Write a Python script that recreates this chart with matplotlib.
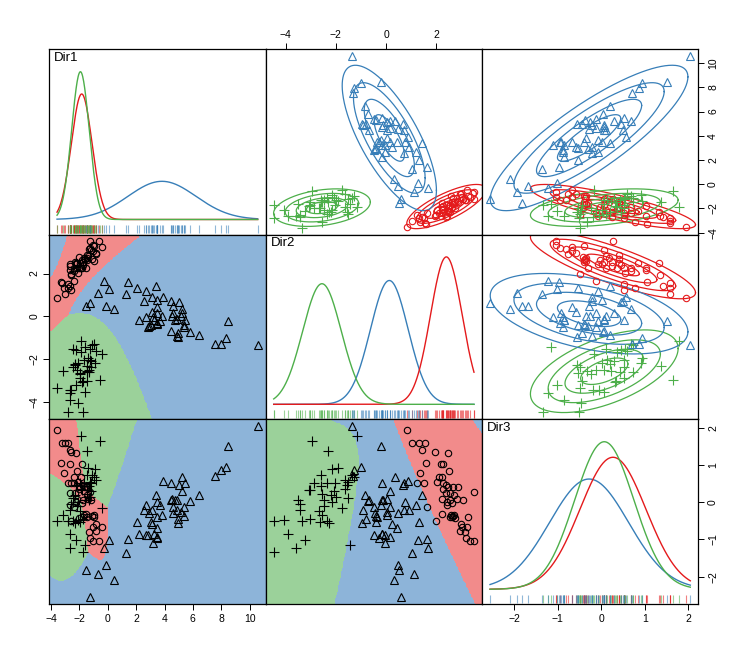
import numpy as np
import matplotlib
matplotlib.use('Agg')
import matplotlib.pyplot as plt
import matplotlib.transforms as mtransforms
from matplotlib.colors import ListedColormap

plt.rcParams['font.family'] = ['Liberation Sans', 'DejaVu Sans']

# ---------------- data ----------------
dim_names = ['Dir1', 'Dir2', 'Dir3']

dir1_red = [-3.55, -3.00, -2.80, -3.20, -2.68, -2.61, -2.26, -3.27, -2.64, -1.79,
            -2.20, -3.11, -2.40, -1.86, -2.80, -2.56, -2.09, -2.35, -1.74, -2.02,
            -1.95, -1.60, -1.50, -1.25, -2.68, -2.33, -1.50, -2.16, -1.74, -1.40,
            -1.20, -2.21, -1.85, -2.64, -2.40, -2.56, -1.55, -0.98, -1.45, -1.10,
            -1.65, -0.95, -0.80, -1.03, -0.44, -0.84, -1.31, -1.27, -1.03, -0.60,
            -1.75, -2.00]
dir2_red = [0.85, 1.04, 1.31, 1.55, 1.44, 1.95, 2.47, 1.60, 2.18, 2.28,
            2.51, 1.34, 2.11, 2.24, 1.51, 1.24, 2.04, 2.28, 2.40, 2.28,
            2.47, 2.67, 2.88, 3.50, 2.37, 2.53, 2.71, 2.24, 2.55, 2.84,
            3.08, 2.44, 2.64, 2.44, 1.64, 1.98, 2.24, 2.57, 2.64, 2.68,
            2.71, 3.26, 2.97, 3.04, 3.24, 2.93, 3.15, 3.20, 3.33, 3.50,
            2.55, 2.75]
dir3_red = [1.95, 1.59, 1.59, 1.59, 1.42, 1.36, 1.32, 1.05, 1.02, 1.03,
            0.85, 0.78, 0.69, 0.69, 0.52, 0.52, 0.55, 0.52, 0.46, 0.37,
            0.40, 0.42, 0.42, 0.28, 0.25, 0.24, 0.19, 0.10, 0.07, 0.10,
            0.055, 0.01, -0.02, -0.08, -0.13, -0.50, -0.31, -0.35, -0.40, -0.38,
            -0.35, -0.40, -0.59, -0.67, -0.67, -0.77, -0.80, -0.95, -1.03, -1.05,
            -0.40, -0.41]

dir1_green = [-1.86, -0.56, -1.50, -0.87, -1.38, -1.46, -1.10, -0.95, -0.80, -1.97,
              -1.15, -1.70, -1.25, -2.26, -1.31, -1.86, -1.50, -1.79, -1.15, -1.46,
              -2.33, -1.27, -2.45, -1.62, -1.31, -2.09, -2.56, -2.16, -0.44, -2.68,
              -1.97, -3.15, -1.74, -2.09, -2.45, -2.80, -3.58, -1.97, -2.30, -2.64,
              -2.21, -1.62, -2.64, -1.74]
dir2_green = [-1.15, -2.95, -2.31, -2.17, -1.92, -2.57, -1.35, -1.28, -1.62, -2.88,
              -2.35, -2.04, -1.52, -1.55, -2.57, -1.64, -3.01, -3.05, -2.08, -2.55,
              -2.21, -2.01, -1.52, -3.50, -2.48, -2.15, -3.44, -2.48, -1.75, -3.44,
              -2.68, -2.55, -3.01, -4.05, -2.35, -4.47, -3.34, -2.61, -2.28, -3.90,
              -3.21, -1.42, -3.58, -4.47]
dir3_green = [1.78, 1.65, 1.38, 0.91, 0.93, 0.73, 0.73, 0.69, 0.60, 0.52,
              0.52, 0.52, 0.55, 0.46, 0.43, 0.37, 0.34, 0.32, 0.30, 0.235,
              0.21, 0.13, 0.11, 0.07, 0.055, 0.02, -0.04, -0.11, -0.16, -0.20,
              -0.24, -0.33, -0.44, -0.47, -0.49, -0.51, -0.50, -0.53, -0.55, -0.85,
              -1.01, -1.16, -1.23, -1.34]

dir1_blue = [10.57, 8.47, 7.53, 7.98, 8.36, 3.92, 4.46, 5.22, 5.45, 5.00,
             6.45, 5.83, 3.40, 3.45, 3.69, 2.67, 3.10, 2.55, 4.44, 4.75,
             4.91, 4.63, 4.87, 5.38, 5.34, 3.80, 4.58, 2.04, 3.03, 3.10,
             3.45, 2.22, 2.67, 2.86, 3.26, 3.50, 1.40, 0.10, 3.21, 1.28,
             -0.28, -0.13, -1.57, -0.68, 0.45, -1.22, 5.15, 3.45, 4.51, 3.50,
             2.93, 4.98, 4.98, 5.22]
dir2_blue = [-1.34, -0.20, -1.30, -1.26, -0.99, 0.89, 0.72, 0.34, -0.17, 0.69,
             -0.85, -0.73, 1.42, 0.76, -0.20, 1.20, 0.92, 0.73, -0.67, -0.17,
             -0.14, 0.14, -0.92, -0.48, -0.40, 0.02, 0.48, 1.31, -0.40, 0.22,
             0.42, -0.17, -0.04, -0.48, -0.17, 0.17, 1.62, 1.26, -0.04, 1.04,
             1.67, 0.48, 0.50, 1.11, 0.33, 0.61, 0.02, -0.29, 0.02, -0.36,
             -0.45, -0.79, -0.95, 0.14]
dir3_blue = [2.05, 1.51, 0.71, 0.88, 0.94, 0.58, 0.51, 0.69, 0.52, 0.46,
             0.21, 0.03, 0.21, 0.01, -0.08, -0.08, -0.22, -0.22, 0.055, 0.055,
             0.055, -0.13, -0.22, -0.13, -0.38, -0.35, -0.29, -0.53, -0.53, -0.58,
             -0.68, -0.86, -0.89, -0.89, -0.86, -0.92, -0.98, -1.01, -1.10, -1.37,
             -1.23, -1.69, -1.82, -1.94, -2.09, -2.56, -0.26, -0.95, 0.10, -0.40,
             -0.30, -0.45, -0.55, 0.30]

# class Gaussian parameters (means, sds, correlations rho12, rho13, rho23)
red_mean = [-1.84, 2.40, 0.27]
red_sd = [0.73, 0.63, 0.76]
red_corr = [0.76, -0.82, -0.82]
green_mean = [-1.93, -2.55, 0.07]
green_sd = [0.62, 0.77, 0.68]
green_corr = [0.30, 0.40, 0.55]
blue_mean = [3.82, 0.13, -0.28]
blue_sd = [2.40, 0.75, 0.91]
blue_corr = [-0.72, 0.84, -0.45]

contour_radii = [0.8, 1.33, 1.9, 2.5]

line_colors = ['#E41A1C', '#4DAF4A', '#377EB8']
region_colors = ['#F28B8B', '#9BD19A', '#8DB4D9']
markers = ['o', '+', '^']
msizes = [4.6, 6.5, 5.2]

# ---------------- assemble ----------------
data = [np.array([dir1_red, dir2_red, dir3_red]).T,
        np.array([dir1_green, dir2_green, dir3_green]).T,
        np.array([dir1_blue, dir2_blue, dir3_blue]).T]
means = [np.array(red_mean), np.array(green_mean), np.array(blue_mean)]
sds = [red_sd, green_sd, blue_sd]
corrs = [red_corr, green_corr, blue_corr]
covs = []
for s, c in zip(sds, corrs):
    R = np.array([[1, c[0], c[1]], [c[0], 1, c[2]], [c[1], c[2], 1]])
    D = np.diag(s)
    covs.append(D @ R @ D)
counts = np.array([len(d) for d in data])
priors = counts / counts.sum()

allpts = np.vstack(data)
dmin = allpts.min(axis=0)
dmax = allpts.max(axis=0)
rng = dmax - dmin
lims = [(dmin[k] - 0.04 * rng[k], dmax[k] + 0.04 * rng[k]) for k in range(3)]


def npdf(x, m, s):
    return np.exp(-0.5 * ((x - m) / s) ** 2) / (s * np.sqrt(2 * np.pi))


def logpdf2(X, Y, mu, S):
    Si = np.linalg.inv(S)
    dx = X - mu[0]
    dy = Y - mu[1]
    q = Si[0, 0] * dx * dx + 2 * Si[0, 1] * dx * dy + Si[1, 1] * dy * dy
    return -0.5 * q - 0.5 * np.log(np.linalg.det(S))


# ---------------- figure ----------------
W, H = 747, 654
fig = plt.figure(figsize=(W / 100, H / 100), dpi=100)
xedges = [49.0, 265.7, 482.0, 698.3]
yedges = [49.3, 234.5, 419.3, 604.3]

tick_kw = dict(direction='out', length=4, width=0.7, labelsize=7.5, pad=3,
               color='black')

axes = {}
for i in range(3):
    for j in range(3):
        l = xedges[j] / W
        b = 1 - yedges[i + 1] / H
        w = (xedges[j + 1] - xedges[j]) / W
        h = (yedges[i + 1] - yedges[i]) / H
        ax = fig.add_axes([l, b, w, h])
        axes[(i, j)] = ax
        for sp in ax.spines.values():
            sp.set_linewidth(0.9)
        ax.set_xticks([])
        ax.set_yticks([])
        ax.set_xlim(lims[j])
        if i == j:
            # density panel
            xs = np.linspace(dmin[i], dmax[i], 400)
            curves = [npdf(xs, means[k][i], sds[k][i]) for k in range(3)]
            M = max(c.max() for c in curves)
            for k in (2, 0, 1):
                ax.plot(xs, curves[k], color=line_colors[k], lw=1.0)
            ax.set_ylim(-0.1016 * M, 1.152 * M)
            trans = mtransforms.blended_transform_factory(ax.transData, ax.transAxes)
            for k in range(3):
                ax.vlines(data[k][:, i], 0.008, 0.051, transform=trans,
                          colors=line_colors[k], alpha=0.55, lw=0.8)
            ax.text(0.022, 0.985, dim_names[i], transform=ax.transAxes,
                    ha='left', va='top', fontsize=9.5)
        elif j > i:
            # upper: coloured points with density ellipses
            ax.set_ylim(lims[i])
            t = np.linspace(0, 2 * np.pi, 300)
            for k in range(3):
                idx = [j, i]
                mu = means[k][idx]
                S = covs[k][np.ix_(idx, idx)]
                L = np.linalg.cholesky(S)
                for r in contour_radii:
                    pts = mu[:, None] + r * (L @ np.vstack([np.cos(t), np.sin(t)]))
                    ax.plot(pts[0], pts[1], color=line_colors[k], lw=0.9)
            for k in range(3):
                ax.plot(data[k][:, j], data[k][:, i], ls='none', marker=markers[k],
                        ms=msizes[k], mfc='none', mec=line_colors[k], mew=0.8)
        else:
            # lower: classification regions with black points
            ax.set_ylim(lims[i])
            gx = np.linspace(lims[j][0], lims[j][1], 300)
            gy = np.linspace(lims[i][0], lims[i][1], 260)
            X, Y = np.meshgrid(gx, gy)
            scores = []
            for k in range(3):
                idx = [j, i]
                mu = means[k][idx]
                S = covs[k][np.ix_(idx, idx)]
                scores.append(np.log(priors[k]) + logpdf2(X, Y, mu, S))
            cls = np.argmax(np.array(scores), axis=0)
            ax.imshow(cls, origin='lower', extent=[lims[j][0], lims[j][1],
                                                   lims[i][0], lims[i][1]],
                      cmap=ListedColormap(region_colors), vmin=-0.5, vmax=2.5,
                      aspect='auto', interpolation='nearest', zorder=0)
            for k in range(3):
                ax.plot(data[k][:, j], data[k][:, i], ls='none', marker=markers[k],
                        ms=msizes[k], mfc='none', mec='black', mew=0.8, zorder=3)

# ---------------- outer axes ----------------
# top of column 2 (Dir2)
ax = axes[(0, 1)]
ax.set_xticks([-4, -2, 0, 2])
ax.xaxis.set_ticks_position('top')
ax.xaxis.set_label_position('top')
ax.tick_params(axis='x', **tick_kw)

# bottom of column 1 (Dir1)
ax = axes[(2, 0)]
ax.set_xticks([-4, -2, 0, 2, 4, 6, 8, 10])
ax.tick_params(axis='x', **tick_kw)

# bottom of column 3 (Dir3)
ax = axes[(2, 2)]
ax.set_xticks([-2, -1, 0, 1, 2])
ax.tick_params(axis='x', **tick_kw)

# left of row 2 (Dir2)
ax = axes[(1, 0)]
ax.set_yticks([-4, -2, 0, 2])
ax.tick_params(axis='y', labelrotation=90, **tick_kw)
for lab in ax.get_yticklabels():
    lab.set_va('center')

# right of row 1 (Dir1)
ax = axes[(0, 2)]
ax.set_yticks([-4, -2, 0, 2, 4, 6, 8, 10])
ax.yaxis.set_ticks_position('right')
ax.tick_params(axis='y', labelrotation=90, **tick_kw)
for lab in ax.get_yticklabels():
    lab.set_va('center')

# right of row 3 (Dir3) on the density panel: overlay axis in Dir3 units
base = axes[(2, 2)]
ov = fig.add_axes(base.get_position(), frameon=False)
ov.set_xticks([])
ov.set_ylim(lims[2])
ov.set_yticks([-2, -1, 0, 1, 2])
ov.yaxis.set_ticks_position('right')
ov.tick_params(axis='y', labelrotation=90, **tick_kw)
for lab in ov.get_yticklabels():
    lab.set_va('center')
ov.patch.set_alpha(0)

fig.savefig('out.png', dpi=100)
